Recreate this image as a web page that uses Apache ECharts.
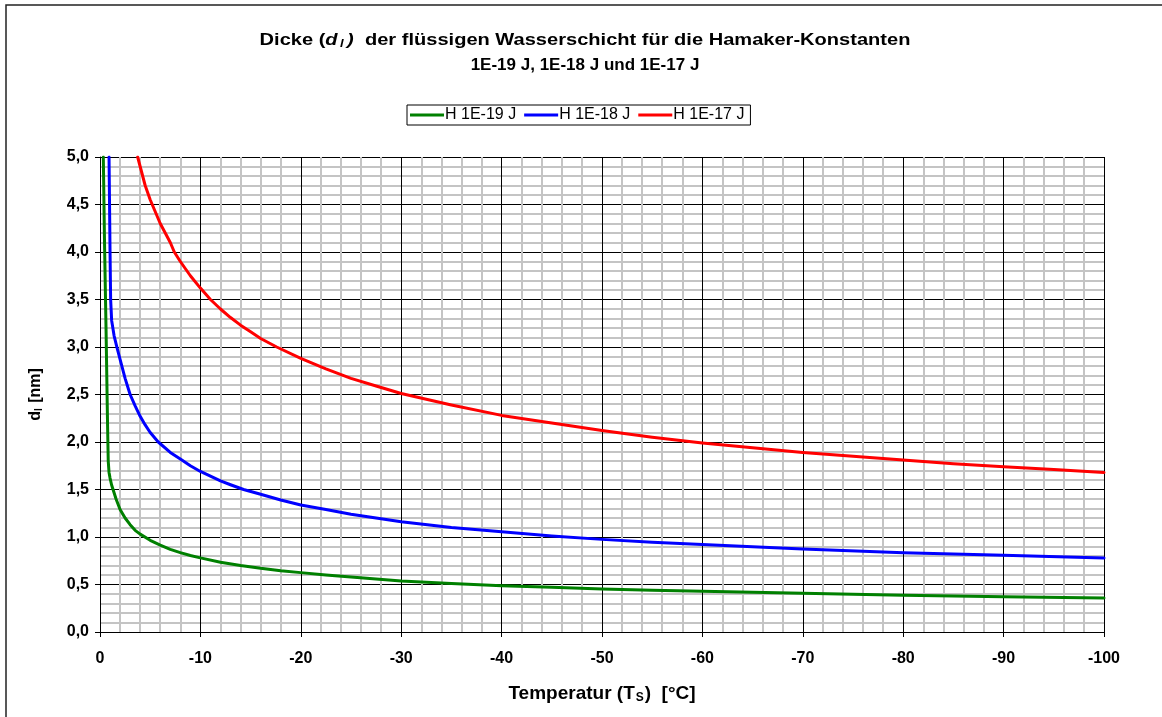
<!DOCTYPE html>
<html>
<head>
<meta charset="utf-8">
<script src="https://cdn.jsdelivr.net/npm/echarts@6/dist/echarts.min.js"></script>
<style>
html,body{margin:0;padding:0;background:#fff;}
#chart{width:1162px;height:717px;}
</style>
</head>
<body>
<div id="chart"></div>
<script>
// Temperatures (°C) and layer thickness (nm)
var seriesNames = ['H 1E-19 J', 'H 1E-18 J', 'H 1E-17 J'];
var xTicks = [0, -10, -20, -30, -40, -50, -60, -70, -80, -90, -100];
var yTicks = [0, 0.5, 1, 1.5, 2, 2.5, 3, 3.5, 4, 4.5, 5];

var greenT = [-0.33, -0.45, -0.6, -0.75, -0.82, -0.9, -1.0, -1.15, -1.3, -1.6, -2, -2.5, -3, -3.5, -4, -5, -6, -7, -8, -9, -10, -12, -14, -16, -18, -20, -22.5, -25, -27.5, -30, -35, -40, -45, -50, -55, -60, -70, -80, -90, -100];
var greenD = [5.0, 4.1, 3.2, 2.2, 1.8, 1.68, 1.62, 1.55, 1.5, 1.4, 1.29, 1.2, 1.13, 1.07, 1.03, 0.965, 0.915, 0.87, 0.835, 0.805, 0.78, 0.735, 0.7, 0.67, 0.645, 0.625, 0.6, 0.578, 0.557, 0.537, 0.51, 0.488, 0.47, 0.453, 0.44, 0.428, 0.407, 0.386, 0.372, 0.358];

var blueT = [-0.9, -0.95, -1.0, -1.06, -1.16, -1.4, -1.7, -2, -2.5, -3, -3.5, -4, -4.5, -5, -5.8, -7, -8, -9, -10, -11, -12, -13, -14.3, -16, -18, -20, -22.5, -25, -27.5, -30, -35, -40, -45, -50, -55, -60, -70, -80, -90, -100];
var blueD = [5.0, 4.5, 4.0, 3.5, 3.28, 3.12, 2.99, 2.87, 2.67, 2.5, 2.38, 2.27, 2.18, 2.1, 2.0, 1.89, 1.82, 1.75, 1.69, 1.64, 1.59, 1.55, 1.5, 1.45, 1.39, 1.337, 1.29, 1.24, 1.2, 1.16, 1.1, 1.056, 1.01, 0.975, 0.945, 0.92, 0.874, 0.835, 0.807, 0.779];

var redT = [-3.75, -4, -4.5, -5, -5.4, -6, -7, -7.4, -8, -9, -10, -11, -12, -13, -14, -15, -16, -17.6, -20, -22.5, -25, -27.5, -30, -35, -40, -45, -50, -55, -60, -65, -70, -75, -80, -85, -90, -95, -100];
var redD = [5.0, 4.9, 4.7, 4.55, 4.45, 4.3, 4.1, 4.0, 3.9, 3.75, 3.62, 3.5, 3.4, 3.31, 3.23, 3.16, 3.09, 3.0, 2.88, 2.77, 2.67, 2.59, 2.51, 2.39, 2.28, 2.2, 2.12, 2.05, 1.99, 1.94, 1.89, 1.85, 1.81, 1.77, 1.74, 1.71, 1.68];

var colors = ['#008000', '#0000ff', '#ff0000'];

function zip(a, b) { return a.map(function (v, i) { return [v, b[i]]; }); }

var FONT = '"Liberation Sans", Arial, sans-serif';
var chart = echarts.init(document.getElementById('chart'), null, {renderer: 'canvas'});

var lineSeries = [zip(greenT, greenD), zip(blueT, blueD), zip(redT, redD)].map(function (d, i) {
  return {
    name: seriesNames[i],
    type: 'line',
    data: d,
    showSymbol: false,
    smooth: false,
    clip: true,
    lineStyle: {color: colors[i], width: 3, join: 'round', cap: 'round'},
    itemStyle: {color: colors[i]},
    emphasis: {disabled: true}
  };
});

var richTitle = {
  b: {fontSize: 17, fontWeight: 'bold', fill: '#000', fontFamily: FONT},
  i: {fontSize: 17, fontWeight: 'bold', fontStyle: 'italic', fill: '#000', fontFamily: FONT},
  s: {fontSize: 11, fontWeight: 'bold', fontStyle: 'italic', fill: '#000', fontFamily: FONT, padding: [8, 3, 0, 2]}
};

chart.setOption({
  animation: false,
  backgroundColor: '#fff',
  textStyle: {fontFamily: FONT},
  legend: {
    top: 105,
    left: 407,
    orient: 'horizontal',
    data: seriesNames,
    icon: 'rect',
    itemWidth: 34,
    itemHeight: 3,
    itemGap: 8,
    padding: [2, 6, 2, 3],
    borderColor: '#000',
    borderWidth: 1,
    borderRadius: 0,
    textStyle: {fontFamily: FONT, fontSize: 16, color: '#000', padding: [0, 0, 0, -4]},
    selectedMode: false
  },
  grid: {left: 100, right: 58, top: 157, bottom: 85, containLabel: false},
  xAxis: {
    type: 'value',
    min: -100,
    max: 0,
    interval: 10,
    inverse: true,
    name: '{b|Temperatur (T}{s|S}{b|)  [°C]}',
    nameLocation: 'middle',
    nameGap: 52,
    nameTextStyle: {
      rich: {
        b: {fontSize: 19, fontWeight: 'bold', color: '#000', fontFamily: FONT},
        s: {fontSize: 12, fontWeight: 'bold', color: '#000', fontFamily: FONT, padding: [8, 1, 0, 1]}
      }
    },
    axisLine: {show: true, onZero: false, lineStyle: {color: '#000', width: 1}},
    axisTick: {show: true, length: 5, lineStyle: {color: '#000'}},
    minorTick: {show: false, splitNumber: 5},
    axisLabel: {
      fontFamily: FONT, fontSize: 16, fontWeight: 'bold', color: '#000', margin: 19,
      formatter: function (v) { return xTicks.indexOf(v) >= 0 ? String(v) : ''; }
    },
    splitLine: {show: true, lineStyle: {color: '#000', width: 1}},
    minorSplitLine: {show: true, lineStyle: {color: '#c4c4c4', width: 2}}
  },
  yAxis: {
    type: 'value',
    min: 0,
    max: 5,
    interval: 0.5,
    name: '{b|d}{s|l}{b| [nm]}',
    nameLocation: 'middle',
    nameGap: 56,
    nameRotate: 90,
    nameTextStyle: {
      rich: {
        b: {fontSize: 16, fontWeight: 'bold', color: '#000', fontFamily: FONT},
        s: {fontSize: 10, fontWeight: 'bold', color: '#000', fontFamily: FONT, padding: [7, 1, 0, 0]}
      }
    },
    axisLine: {show: true, onZero: false, lineStyle: {color: '#000', width: 1}},
    axisTick: {show: true, length: 5, lineStyle: {color: '#000'}},
    minorTick: {show: false, splitNumber: 5},
    axisLabel: {
      fontFamily: FONT, fontSize: 16, fontWeight: 'bold', color: '#000', margin: 11,
      formatter: function (v) {
        var t = yTicks.filter(function (y) { return Math.abs(y - v) < 1e-9; });
        return t.length ? t[0].toFixed(1).replace('.', ',') : '';
      }
    },
    splitLine: {show: true, lineStyle: {color: '#000', width: 1}},
    minorSplitLine: {show: true, lineStyle: {color: '#c4c4c4', width: 2}}
  },
  graphic: [{
    type: 'rect',
    silent: true,
    z: -1,
    shape: {x: 6, y: 5, width: 1200, height: 800},
    style: {fill: 'none', stroke: '#222', lineWidth: 1.5}
  }, {
    type: 'text',
    silent: true,
    x: 585,
    y: 40,
    scaleX: 1.18,
    style: {
      x: 0, y: 0,
      align: 'center',
      verticalAlign: 'middle',
      text: '{b|Dicke (}{i|d}{s|l}{i|)}{b|  der flüssigen Wasserschicht für die Hamaker-Konstanten}',
      rich: richTitle,
      fontFamily: FONT,
      fontSize: 17,
      fontWeight: 'bold',
      fill: '#000'
    }
  }, {
    type: 'text',
    silent: true,
    x: 585,
    y: 65,
    scaleX: 1.0,
    style: {
      x: 0, y: 0,
      align: 'center',
      verticalAlign: 'middle',
      text: '1E-19 J, 1E-18 J und 1E-17 J',
      fontFamily: FONT,
      fontSize: 17,
      fontWeight: 'bold',
      fill: '#000'
    }
  }],
  series: lineSeries
});
</script>
</body>
</html>
